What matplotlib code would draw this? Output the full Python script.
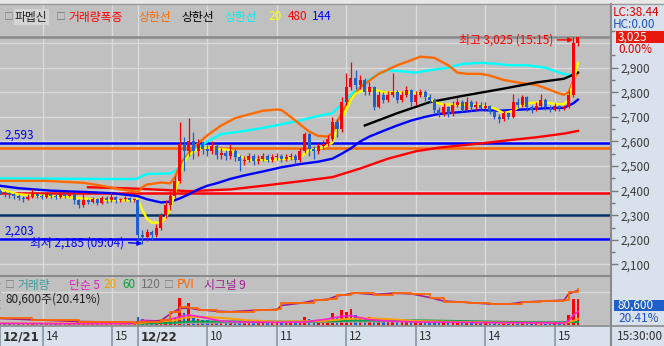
import numpy as np
import matplotlib.pyplot as plt
from matplotlib.patches import Rectangle
from matplotlib.lines import Line2D
from matplotlib.ticker import FixedLocator

plt.rcParams['font.family'] = ['Noto Sans CJK KR', 'DejaVu Sans']

W, H = 664, 346

# ---- data: 4-minute bars, 12/21 13:23~15:20 (30 bars), 12/22 09:00~15:20 (96 bars)
day1_open = 2400
day1_close = [2395, 2390, 2385, 2380, 2370, 2365, 2375, 2385, 2380, 2375,
              2385, 2380, 2375, 2385, 2380, 2385, 2360, 2340, 2360, 2355,
              2365, 2350, 2370, 2360, 2375, 2360, 2365, 2370, 2360, 2365]
day1_high = [2405, 2398, 2395, 2392, 2385, 2378, 2385, 2405, 2392, 2388,
             2395, 2390, 2386, 2392, 2390, 2395, 2388, 2365, 2395, 2368,
             2375, 2370, 2380, 2378, 2395, 2380, 2372, 2378, 2375, 2372]
day1_low = [2385, 2375, 2372, 2365, 2360, 2355, 2360, 2370, 2372, 2368,
            2370, 2372, 2365, 2370, 2372, 2375, 2345, 2330, 2335, 2345,
            2348, 2340, 2345, 2350, 2355, 2350, 2352, 2358, 2352, 2355]
day1_vol = [30, 20, 25, 15, 20, 15, 20, 25, 15, 20, 15, 20, 15, 20, 15,
            20, 35, 40, 30, 20, 15, 20, 15, 20, 25, 15, 20, 15, 15, 20]

day2_open = 2360
day2_close = [2220, 2210, 2230, 2220, 2250, 2300, 2340, 2380, 2440, 2590,
              2560, 2600, 2560, 2590, 2570, 2560, 2580, 2545, 2555, 2540,
              2560, 2535, 2520, 2525, 2540, 2520, 2530, 2540, 2525, 2535,
              2540, 2530, 2535, 2540, 2525, 2560, 2630, 2570, 2560, 2580,
              2590, 2610, 2680, 2650, 2760, 2820, 2860, 2830, 2850, 2800,
              2820, 2740, 2790, 2770, 2790, 2800, 2770, 2790, 2810, 2760,
              2790, 2800, 2780, 2770, 2730, 2710, 2740, 2710, 2750, 2760,
              2730, 2760, 2740, 2750, 2735, 2745, 2720, 2700, 2690, 2715,
              2700, 2760, 2750, 2780, 2740, 2730, 2745, 2770, 2740, 2730,
              2745, 2735, 2740, 2790, 3000, 3025]
day2_high = [2365, 2240, 2245, 2240, 2265, 2310, 2360, 2400, 2460, 2680,
             2620, 2695, 2640, 2610, 2600, 2585, 2600, 2590, 2575, 2565,
             2590, 2570, 2545, 2540, 2555, 2548, 2545, 2555, 2550, 2548,
             2555, 2550, 2548, 2555, 2550, 2575, 2640, 2635, 2580, 2595,
             2605, 2625, 2700, 2690, 2780, 2880, 2925, 2890, 2870, 2860,
             2840, 2825, 2805, 2800, 2805, 2880, 2810, 2805, 2825, 2815,
             2805, 2815, 2810, 2795, 2775, 2740, 2755, 2745, 2765, 2775,
             2770, 2780, 2770, 2765, 2760, 2760, 2750, 2730, 2710, 2725,
             2720, 2795, 2775, 2790, 2785, 2750, 2760, 2795, 2775, 2750,
             2755, 2750, 2750, 2810, 3025, 3025]
day2_low = [2200, 2185, 2195, 2200, 2210, 2240, 2290, 2320, 2370, 2430,
            2480, 2540, 2530, 2540, 2550, 2540, 2550, 2530, 2530, 2525,
            2530, 2520, 2480, 2505, 2515, 2505, 2510, 2520, 2515, 2515,
            2525, 2515, 2520, 2525, 2510, 2515, 2555, 2540, 2530, 2550,
            2570, 2580, 2600, 2620, 2640, 2750, 2810, 2815, 2815, 2790,
            2790, 2730, 2735, 2755, 2760, 2780, 2755, 2760, 2780, 2745,
            2750, 2780, 2765, 2755, 2715, 2700, 2705, 2700, 2705, 2740,
            2720, 2725, 2725, 2730, 2725, 2725, 2710, 2690, 2675, 2685,
            2690, 2695, 2735, 2740, 2725, 2715, 2725, 2740, 2730, 2720,
            2725, 2725, 2730, 2735, 2780, 2990]
day2_vol = [120, 90, 60, 50, 60, 70, 80, 90, 100, 410,
            180, 330, 140, 90, 80, 70, 60, 70, 50, 60,
            50, 40, 60, 40, 35, 40, 35, 30, 35, 30,
            40, 30, 35, 30, 40, 60, 120, 90, 60, 50,
            50, 60, 180, 110, 220, 200, 240, 150, 120, 90,
            125, 100, 60, 50, 50, 90, 50, 40, 45, 50,
            40, 35, 40, 35, 45, 50, 40, 35, 40, 35,
            30, 40, 30, 30, 25, 30, 30, 35, 40, 30,
            25, 50, 30, 35, 30, 25, 25, 35, 25, 20,
            25, 20, 30, 150, 390, 390]

# indicator lines, given at bar indices
ma20_idx = [0, 4, 11, 17, 22, 29, 30, 31, 32, 33, 35, 36, 37, 38, 39, 40, 41, 43, 45, 47,
            50, 52, 54, 58, 62, 65, 67, 70, 72, 73, 74, 75, 76, 77, 79, 81, 83, 86, 90, 92,
            93, 94, 96, 100, 104, 107, 109, 111, 113, 115, 118, 120, 122, 123, 124, 125]
ma20_val = [2405, 2385, 2378, 2370, 2362, 2360, 2365, 2320, 2285, 2270, 2270, 2290, 2325, 2390,
            2460, 2515, 2545, 2570, 2575, 2570, 2565, 2540, 2525, 2525, 2530, 2535, 2565, 2575,
            2595, 2645, 2690, 2730, 2770, 2795, 2810, 2810, 2800, 2800, 2798, 2790, 2775, 2760,
            2750, 2750, 2745, 2735, 2715, 2725, 2750, 2757, 2760, 2752, 2752, 2770, 2840, 2920]
ma144_idx = [0, 4, 11, 18, 24, 30, 32, 35, 37, 39, 41, 43, 45, 47, 50, 53, 57, 61, 65, 69,
             72, 74, 76, 78, 80, 83, 86, 89, 92, 95, 100, 104, 108, 113, 118, 122, 124, 125]
ma144_val = [2420, 2410, 2400, 2395, 2390, 2378, 2365, 2352, 2355, 2368, 2385, 2405, 2420, 2430,
             2448, 2462, 2478, 2495, 2508, 2518, 2530, 2550, 2572, 2600, 2620, 2643, 2665, 2685,
             2700, 2712, 2720, 2728, 2725, 2730, 2735, 2737, 2755, 2770]
ma480_idx = [19, 30, 41, 50, 57, 65, 72, 78, 84, 90, 95, 104, 110, 116, 122, 125]
ma480_val = [2414, 2408, 2398, 2405, 2420, 2438, 2455, 2490, 2530, 2560, 2575, 2592, 2605,
             2617, 2632, 2643]
band1_idx = [0, 10, 18, 22, 26, 29, 30, 31, 32, 35, 37, 38, 39, 40, 42, 45, 48, 51, 54, 57,
             60, 61, 63, 65, 67, 69, 71, 72, 73, 75, 78, 82, 86, 89, 91, 94, 97, 99, 101, 104,
             106, 109, 112, 116, 119, 121, 122, 123, 124, 125]
band1_val = [2440, 2440, 2432, 2420, 2405, 2397, 2395, 2415, 2425, 2433, 2430, 2455, 2500, 2530,
             2575, 2625, 2665, 2695, 2710, 2725, 2730, 2728, 2700, 2670, 2640, 2622, 2620, 2635,
             2680, 2750, 2820, 2875, 2910, 2930, 2945, 2940, 2910, 2880, 2875, 2875, 2868, 2850,
             2840, 2830, 2810, 2795, 2790, 2800, 2850, 2880]
band2_idx = [79, 86, 93, 100, 109, 116, 122, 125]
band2_val = [2665, 2715, 2760, 2785, 2815, 2840, 2855, 2880]
band3_idx = [0, 29, 30, 31, 32, 37, 39, 40, 42, 45, 48, 52, 57, 61, 65, 68, 72, 76, 79, 82,
             84, 87, 90, 93, 97, 100, 104, 108, 110, 114, 118, 121, 123, 124]
band3_val = [2450, 2447, 2450, 2460, 2468, 2470, 2490, 2520, 2560, 2600, 2630, 2640, 2655, 2670,
             2685, 2700, 2715, 2790, 2840, 2875, 2890, 2885, 2880, 2890, 2900, 2915, 2920, 2915,
             2910, 2910, 2900, 2880, 2870, 2875]
levels = [3025, 2593, 2575, 2390, 2300, 2203]

# volume averages (thousand shares)
vma5_idx = [0, 15, 29, 31, 35, 39, 41, 43, 45, 48, 52, 60, 66, 71, 74, 76, 78, 80, 84, 90,
            100, 110, 120, 122, 123, 124, 125]
vma5_val = [25, 20, 22, 70, 60, 120, 150, 130, 100, 60, 45, 40, 45, 90, 130, 140, 110, 80,
            60, 45, 40, 35, 30, 28, 60, 150, 200]
vma20_idx = [0, 29, 32, 38, 40, 42, 46, 50, 54, 60, 70, 75, 80, 85, 90, 100, 110, 122, 124, 125]
vma20_val = [25, 22, 40, 70, 110, 120, 115, 95, 70, 50, 60, 90, 100, 85, 60, 45, 35, 30, 60, 90]
vma60_idx = [30, 38, 41, 55, 62, 72, 76, 90, 100, 110, 120, 125]
vma60_val = [20, 35, 50, 55, 50, 55, 65, 70, 60, 45, 38, 45]
vma120_idx = [30, 45, 70, 90, 110, 125]
vma120_val = [22, 35, 45, 55, 50, 45]

pvi_idx = [0, 7, 17, 29, 30, 35, 37, 39, 41, 43, 47, 50, 55, 60, 61, 65, 68, 71, 73, 76,
           77, 81, 85, 89, 93, 96, 101, 106, 110, 113, 117, 122, 123, 125]
pvi_val = [6.7, 5.0, 3.3, 2.3, 3.3, 5.0, 13.3, 18.3, 16.7, 15.0, 13.3, 13.3, 15.0, 15.7, 21.7,
           22.3, 25.0, 26.0, 30.0, 31.7, 32.3, 30.0, 32.3, 31.0, 26.7, 23.3, 22.3, 20.7, 20.7,
           23.3, 24.0, 25.0, 33.3, 35.7]
sig_val = [6.5, 5.2, 3.5, 2.5, 3.0, 4.5, 11.0, 16.5, 17.0, 15.5, 13.8, 13.3, 14.6, 15.5, 19.5,
           21.8, 24.3, 25.8, 29.0, 31.2, 32.0, 30.5, 31.8, 31.2, 27.5, 24.0, 22.6, 21.0, 20.8,
           22.8, 23.8, 24.8, 31.0, 34.5]

time_ticks = [(1, '13:23', '12/21'), (1, '14:00', '14'), (1, '15:00', '15'),
              (2, '09:00', '12/22'), (2, '10:00', '10'), (2, '11:00', '11'),
              (2, '12:00', '12'), (2, '13:00', '13'), (2, '14:00', '14'), (2, '15:00', '15')]


# ---- time axis (minutes, both sessions joined)
def tx(day, hhmm):
    h, m = map(int, hhmm.split(':'))
    mins = h * 60 + m
    return mins - (13 * 60 + 23) if day == 1 else 119 + mins - 540


XMAX = 527.6
x = np.concatenate([np.arange(len(day1_close)) * 4, tx(2, '09:00') + np.arange(len(day2_close)) * 4])
closes = np.array(day1_close + day2_close)
opens = np.array([day1_open] + day1_close[:-1] + [day2_open] + day2_close[:-1])
highs = np.array(day1_high + day2_high)
lows = np.array(day1_low + day2_low)
vols = np.array(day1_vol + day2_vol)
up = closes >= opens
RED, BLUE = '#FF0000', '#1F5FD0'
ccol = np.where(up, RED, BLUE)
tick_x = [tx(d, t) for d, t, _ in time_ticks]

GRID = '#DADADA'
PANEL = '#D8E1EC'

fig = plt.figure(figsize=(W / 100, H / 100), dpi=100)
fig.patch.set_facecolor('#C0C0C0')


def rect(x0, y0, x1, y1):
    return [x0 / W, 1 - y1 / H, (x1 - x0) / W, (y1 - y0) / H]


def fpatch(x0, y0, x1, y1, color, z=-1):
    fig.patches.append(Rectangle((x0 / W, 1 - y1 / H), (x1 - x0) / W, (y1 - y0) / H,
                                 transform=fig.transFigure, facecolor=color,
                                 edgecolor='none', zorder=z))


def fline(x0, y0, x1, y1, color, lw=1.0, z=1):
    fig.add_artist(Line2D([x0 / W, x1 / W], [1 - y0 / H, 1 - y1 / H], color=color, lw=lw, zorder=z))


def ftext(px, py, s, color, size=8.5, z=3, **kw):
    return fig.text(px / W, 1 - py / H, s, color=color, fontsize=size, va='center', ha='left',
                    zorder=z, **kw)


fpatch(611, 0, W, H, PANEL)
fpatch(0, 326, W, H, PANEL)
fpatch(0, 0, W, 4, '#E8E8E8')

# ---- price panel
ax = fig.add_axes(rect(0, 4, 611, 276))
ax.set_facecolor('#C0C0C0')
ax.set_xlim(0, XMAX)
ax.set_ylim(2053, 3159)
for p in range(2100, 3100, 100):
    ax.axhline(p, color=GRID, lw=1, zorder=1)
for t in tick_x[1:]:
    ax.axvline(t, color=GRID, lw=1, zorder=1)

lvl_colors = ['#8A8A8A', '#0000FF', '#FF6600', '#FF0000', '#003366', '#0000FF']
for v, c in zip(levels, lvl_colors):
    ax.axhline(v, color=c, lw=1.8, zorder=2)


def xi(idx):
    return x[np.array(idx)]


ax.plot(xi(ma480_idx), ma480_val, color='#FF0000', lw=1.7, zorder=3)
ax.plot(xi(band3_idx), band3_val, color='#00FFFF', lw=1.7, zorder=3)
ax.plot(xi(band1_idx), band1_val, color='#FF6A00', lw=1.7, zorder=3)
ax.plot(xi(band2_idx), band2_val, color='#000000', lw=1.7, zorder=3)
ax.plot(xi(ma144_idx), ma144_val, color='#0000FF', lw=1.7, zorder=3)
ax.plot(xi(ma20_idx), ma20_val, color='#FFFF00', lw=1.7, zorder=3)

ax.vlines(x, lows, highs, colors=ccol, lw=0.9, zorder=4)
ax.bar(x, np.maximum(np.abs(closes - opens), 4), bottom=np.minimum(opens, closes),
       width=2.6, color=ccol, zorder=4)

ax.yaxis.tick_right()
ax.set_yticks(np.arange(2100, 3000, 100))
ax.set_yticklabels([f'{v:,}' for v in range(2100, 3000, 100)])
ax.yaxis.set_minor_locator(FixedLocator(np.arange(2050, 3100, 100)))
ax.tick_params(axis='y', which='major', length=5, width=1, color='#7A7A7A',
               labelcolor='#3C3C3C', labelsize=8.5, pad=2)
ax.tick_params(axis='y', which='minor', length=3, width=1, color='#7A7A7A')
ax.set_xticks([])
for s in ax.spines.values():
    s.set_visible(False)

ih = int(np.argmax(highs))
il = int(np.argmin(lows))
ax.annotate(f'최고 {highs[ih]:,} (15:15)', xy=(x[ih], highs[ih] - 12), xytext=(-20, 0),
            textcoords='offset pixels', ha='right', va='center', color='#FF0000', fontsize=8.5,
            zorder=6, arrowprops=dict(arrowstyle='-|>', color='#FF0000', lw=1, mutation_scale=7,
                                      shrinkA=1, shrinkB=0, relpos=(1, 0.5)))
ax.annotate(f'최저 {lows[il]:,} (09:04)', xy=(x[il], lows[il]), xytext=(-18, 1),
            textcoords='offset pixels', ha='right', va='center', color='#0000FF', fontsize=8.5,
            zorder=6, arrowprops=dict(arrowstyle='-|>', color='#0000FF', lw=1, mutation_scale=7,
                                      shrinkA=1, shrinkB=0, relpos=(1, 0.5)))
for v in (levels[1], levels[5]):
    ax.annotate(f'{v:,}', xy=(0, v), xytext=(4, 8), textcoords='offset pixels',
                va='center', ha='left', color='#0000FF', fontsize=8.5, zorder=6)

# ---- volume panel
axv = fig.add_axes(rect(0, 276, 611, 326))
axv.set_facecolor('#C0C0C0')
axv.set_xlim(0, XMAX)
axv.set_ylim(-15, 735)
axv.axhline(500, color=GRID, lw=1, zorder=1)
for t in tick_x[1:]:
    axv.axvline(t, color=GRID, lw=1, zorder=1)
axv.bar(x, vols, width=2.2, color=ccol, zorder=3)
axv.plot(xi(vma120_idx), vma120_val, color='#A0A0A0', lw=1.4, zorder=4)
axv.plot(xi(vma60_idx), vma60_val, color='#00A050', lw=1.4, zorder=4)
axv.plot(xi(vma20_idx), vma20_val, color='#FFA000', lw=1.4, zorder=4)
axv.plot(xi(vma5_idx), vma5_val, color='#FF20D0', lw=1.2, zorder=4)
axv.yaxis.tick_right()
axv.set_yticks([500])
axv.set_yticklabels(['500,000'])
axv.yaxis.set_minor_locator(FixedLocator([125, 250, 375, 625]))
axv.tick_params(axis='y', which='major', length=5, width=1, color='#7A7A7A',
                labelcolor='#3C3C3C', labelsize=8.5, pad=2)
axv.tick_params(axis='y', which='minor', length=3, width=1, color='#7A7A7A')
axv.set_xticks([])
for s in axv.spines.values():
    s.set_visible(False)

axp = axv.twinx()
axp.set_ylim(-1, 49)
axp.plot(xi(pvi_idx), sig_val, color='#A0208F', lw=1.2, zorder=5)
axp.plot(xi(pvi_idx), pvi_val, color='#FF6600', lw=1.3, drawstyle='steps-post', zorder=5)
axp.axis('off')

# ---- date bar
axd = fig.add_axes(rect(0, 326, 611, 346))
axd.set_xlim(0, XMAX)
axd.set_ylim(0, 1)
axd.axis('off')
for (d, t, lab), tv in zip(time_ticks, tick_x):
    axd.axvline(tv, color='#8C96A3', lw=1.2)
    bold = '/' in lab
    axd.annotate(lab, (tv, 0.45), xytext=(3, 0), textcoords='offset pixels', va='center',
                 ha='left', fontsize=8.5, color='#303030',
                 fontweight='bold' if bold else 'normal',
                 family='DejaVu Sans' if bold else None)

fline(0, 276, 611, 276, '#8A8A8A', 1.5)
fline(0, 326, W, 326, '#8A8A8A', 1.2)
fline(611, 4, 611, 346, '#8A8A8A', 1.5)
fline(0, 4, W, 4, '#9A9A9A', 1.0)

# ---- right panel labels
ftext(613, 13, 'LC:38.44', '#E00000')
ftext(613, 25, 'HC:0.00', '#1E50C8', z=1)
fpatch(616, 31, W, 43, '#E8180C', z=2)
ftext(618, 37, f'{closes[-1]:,}', 'white', z=4)
ftext(618, 49.5, '0.00%', '#E00000')
fpatch(614, 300, W, 311, '#1E5FCC', z=2)
ftext(618, 305.5, '80,600', 'white', z=4)
ftext(618, 319, '20.41%', '#1E50C8')
ftext(617, 336, '15:30:00', '#303030')

# ---- legends
ftext(4, 17, '□', '#7A7A7A', size=7)
ftext(15, 17, '파멥신', '#202020', bbox=dict(facecolor='#D4D4D4', edgecolor='none', pad=0.8))
ftext(56, 17, '□', '#7A7A7A', size=7)
ftext(68, 17, '거래량폭증', '#FF0000')
ftext(138, 17, '상한선', '#FF6A00')
ftext(181, 17, '상한선', '#000000')
ftext(224, 17, '상한선', '#00F0F0')
ftext(268, 17, '20', '#FFFF00')
ftext(288, 17, '480', '#FF0000')
ftext(312, 17, '144', '#0000FF')

ftext(5, 285, '□', '#7A7A7A', size=7)
ftext(17, 285, '거래량', '#3A9A9A')
ftext(69, 285, '단순 5', '#E020C0')
ftext(103, 285, '20', '#F0A000')
ftext(122, 285, '60', '#10A040')
ftext(141, 285, '120', '#707070')
ftext(164, 285, '□', '#7A7A7A', size=7)
ftext(177, 285, 'PVI', '#FF6600')
ftext(204, 285, '시그널 9', '#A0208F')
ftext(6, 299, '80,600주(20.41%)', '#202020')

fig.savefig('out.png', dpi=100)
